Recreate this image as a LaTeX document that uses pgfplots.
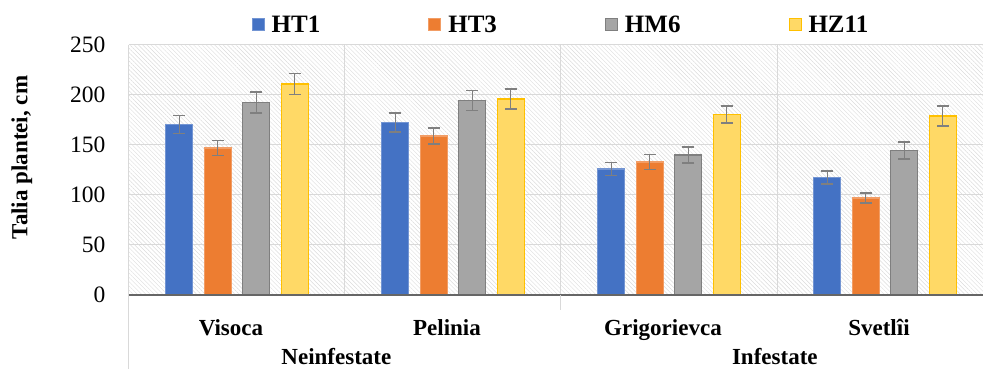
\documentclass[border=0pt]{standalone}
\usepackage{fontspec}
\setmainfont{Liberation Serif}
\usepackage{pgfplots}
\pgfplotsset{compat=1.18}
\usetikzlibrary{patterns.meta}
\definecolor{cHTone}{HTML}{4472C4}
\definecolor{cHTthree}{HTML}{ED7D31}
\definecolor{cHM}{HTML}{A5A5A5}
\definecolor{cHMb}{HTML}{7F7F7F}
\definecolor{cHZ}{HTML}{FFD966}
\definecolor{cHZb}{HTML}{FFC000}
\definecolor{gridc}{HTML}{D9D9D9}
\definecolor{errc}{HTML}{7F7F7F}
\pgfplotsset{myerr/.style={error bars/.cd, y dir=both, y explicit,
    error bar style={errc, line width=1.3pt},
    error mark options={errc, line width=1.3pt, mark size=6pt, rotate=90}}}
\begin{document}
\begin{tikzpicture}
\begin{axis}[
  width=864pt, height=250pt, scale only axis,
  clip mode=individual,
  xmin=-0.5, xmax=3.5, ymin=0, ymax=250,
  ybar=11.5pt, bar width=27pt,
  axis line style={draw=none},
  major tick length=0pt, minor tick length=0pt,
  ytick={0,50,100,150,200,250},
  xtick={0,1,2,3},
  xticklabels={Visoca,Pelinia,Grigorievca,Svetlîi},
  minor xtick={-0.5,0.5,1.5,2.5,3.5},
  ymajorgrids, xminorgrids,
  grid style={draw=gridc, line width=1pt},
  minor grid style={draw=gridc, line width=1pt},
  axis background/.style={pattern={Lines[angle=-45,distance=3pt,line width=0.45pt]}, pattern color=gray!28},
  /pgf/number format/assume math mode=true,
  yticklabel style={font=\fontsize{23.5}{23.5}\selectfont, xshift=-20pt},
  xticklabel style={font=\bfseries\fontsize{23}{23}\selectfont, yshift=-21pt, xshift=-6pt},
  ylabel={Talia plantei, cm},
  every axis y label/.style={at={(rel axis cs:-0.124,0.55)}, rotate=90, anchor=center, font=\bfseries\fontsize{23}{23}\selectfont},
  legend columns=4,
  legend style={draw=none, fill=none, at={(0.5,1.08)}, anchor=center,
    font=\bfseries\fontsize{25}{25}\selectfont,
    /tikz/every even column/.append style={column sep=106pt},
    /tikz/every odd column/.append style={column sep=5pt},
    nodes={inner sep=2pt}},
  every axis plot post/.append style={legend image code/.code={\draw[##1, line width=1pt] (0pt,-6pt) rectangle (12pt,6pt);}},
]
\addplot[fill=cHTone, draw=cHTone!75!white, line width=1.2pt, myerr] coordinates {
  (0,170.5) +- (0,9) (1,172.5) +- (0,9.5) (2,126) +- (0,6.5) (3,117.5) +- (0,6.5)};
\addplot[fill=cHTthree, draw=cHTthree!75!white, line width=1.2pt, myerr] coordinates {
  (0,147) +- (0,7.5) (1,159) +- (0,8) (2,133) +- (0,7.5) (3,97) +- (0,5)};
\addplot[fill=cHM, draw=cHMb, line width=1.2pt, myerr] coordinates {
  (0,192.5) +- (0,10.5) (1,194.5) +- (0,10) (2,140) +- (0,8) (3,144.5) +- (0,8.5)};
\addplot[fill=cHZ, draw=cHZb, line width=1.2pt, myerr] coordinates {
  (0,211) +- (0,10.5) (1,196) +- (0,10) (2,180.5) +- (0,8.5) (3,179) +- (0,10)};
\legend{HT1,HT3,HM6,HZ11}
\draw[gray!80!black, line width=1.2pt] (axis cs:-0.5,0) -- (axis cs:3.5,0);
\draw[gridc, line width=1pt] (axis cs:-0.5,0) -- ([yshift=-90pt]axis cs:-0.5,0);
\draw[gridc, line width=1pt] (axis cs:1.5,0) -- ([yshift=-15pt]axis cs:1.5,0);
\node[font=\bfseries\fontsize{23}{23}\selectfont, anchor=center] at ([yshift=-62pt]axis cs:0.46,0) {Neinfestate};
\node[font=\bfseries\fontsize{23}{23}\selectfont, anchor=center] at ([yshift=-62pt]axis cs:2.49,0) {Infestate};
\end{axis}
\pgfresetboundingbox
\useasboundingbox (-129pt,-74pt) rectangle (854pt,295pt);
\end{tikzpicture}
\end{document}
